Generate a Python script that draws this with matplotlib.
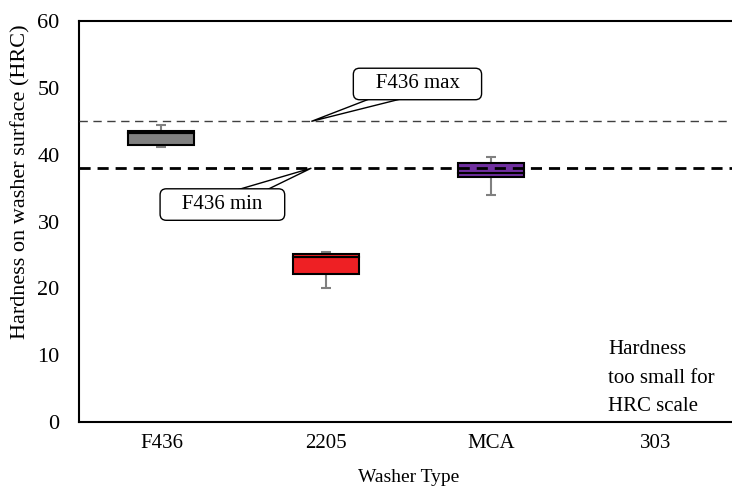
import numpy as np
import matplotlib.pyplot as plt
from matplotlib.patches import Polygon

plt.rcParams['font.family'] = ['Liberation Serif', 'DejaVu Serif']

washers = ['F436', '2205', 'MCA', '303']
# box statistics (303 has no HRC value)
q1 = [41.4, 22.2, 36.7]
med = [43.3, 24.7, 37.3]
q3 = [43.6, 25.1, 38.8]
w_lo = [41.2, 20.0, 34.0]
w_hi = [44.5, 25.4, 39.7]
colors = ['#808080', '#ee2024', '#7030a0']
f436_max = 45
f436_min = 38

fig = plt.figure(figsize=(7.32, 4.87), dpi=100)
ax = fig.add_axes([0.108, 0.1335, 0.9003, 0.823])

x = np.arange(len(washers))
xb = x[:len(q1)]
q1 = np.array(q1); med = np.array(med); q3 = np.array(q3)
w_lo = np.array(w_lo); w_hi = np.array(w_hi)

# whiskers
ax.errorbar(xb, med, yerr=[med - w_lo, w_hi - med], fmt='none', ecolor='#808080',
            elinewidth=1.5, capsize=3.5, capthick=1.5, zorder=2)

# boxes as two stacked segments
ax.bar(xb, med - q1, bottom=q1, width=0.4, color=colors, edgecolor='black', linewidth=1.5, zorder=3)
ax.bar(xb, q3 - med, bottom=med, width=0.4, color=colors, edgecolor='black', linewidth=1.5, zorder=3)

# F436 limits
ax.axhline(f436_max, color='#404040', linestyle=(0, (6, 4)), linewidth=1, zorder=4)
ax.axhline(f436_min, color='black', linestyle=(0, (4, 2.5)), linewidth=2, zorder=4)

# callouts: label box plus a wedge pointing at the limit line
callouts = [('F436 max', f436_max, (1.554, 50.6), (1.293, 1.50, 48.65)),
            ('F436 min', f436_min, (0.370, 32.55), (0.437, 0.625, 34.58))]
for label, lim, (tx, ty), (b0, b1, by) in callouts:
    ax.add_patch(Polygon([(0.91, lim), (b0, by), (b1, by)], closed=True,
                         fc='white', ec='black', lw=1, zorder=5))
    ax.text(tx, ty, '   ' + label + '   ', ha='center', va='center', fontsize=15, zorder=6,
            bbox=dict(boxstyle='round,pad=0.3,rounding_size=0.3', fc='white', ec='black', lw=1))

ax.text(2.71, 12.2, 'Hardness\ntoo small for\nHRC scale', ha='left', va='top',
        fontsize=15, linespacing=1.65)

ax.set_xlim(-0.5, 3.5)
ax.set_ylim(0, 60)
ax.set_yticks(np.arange(0, 61, 10))
ax.set_xticks(x)
ax.set_xticklabels(washers)
ax.tick_params(axis='both', length=0, labelsize=15)
ax.tick_params(axis='y', pad=14, labelsize=16)
ax.tick_params(axis='x', pad=9)
ax.set_xlabel('Washer Type', fontsize=14, labelpad=11)
ax.set_ylabel('Hardness on washer surface (HRC)', fontsize=16)
ax.yaxis.set_label_coords(-0.073, 0.6)
for s in ax.spines.values():
    s.set_linewidth(1.5)

fig.savefig('out.png', dpi=100)
